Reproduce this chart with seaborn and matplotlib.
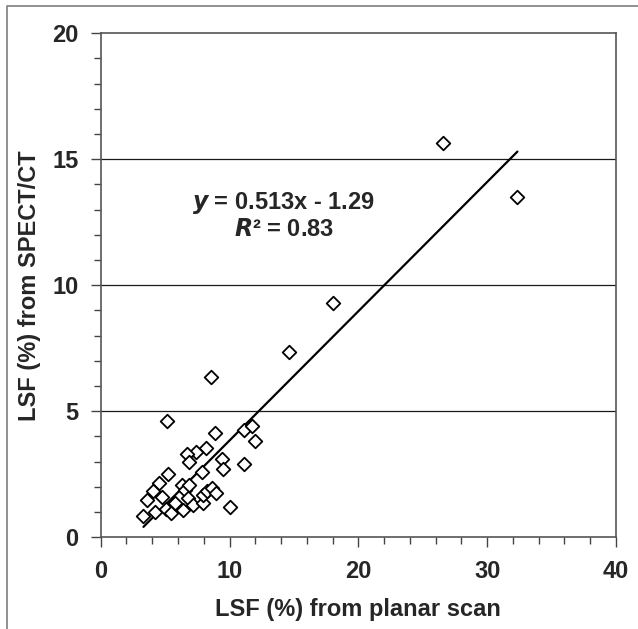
import numpy as np
import pandas as pd
import matplotlib.pyplot as plt
from matplotlib.lines import Line2D
from matplotlib.ticker import MultipleLocator
import seaborn as sns

# LSF (%) values
planar = [26.56, 32.35, 18.01, 14.59, 8.55,
          5.18, 8.89, 11.09, 11.74, 12.0, 8.16, 7.41, 6.68, 6.87, 9.40,
          9.48, 11.09, 7.85, 5.26, 4.56, 4.09, 3.63, 3.32, 4.22, 4.74,
          5.08, 5.47, 5.78, 6.30, 6.55, 6.87, 6.42, 6.81, 7.2, 7.93,
          7.98, 8.29, 8.63, 8.96, 10.0]
spect = [15.63, 13.52, 9.29, 7.37, 6.36,
         4.61, 4.12, 4.26, 4.43, 3.83, 3.53, 3.40, 3.29, 2.98, 3.10,
         2.71, 2.91, 2.61, 2.50, 2.17, 1.84, 1.49, 0.86, 1.00, 1.58,
         1.13, 0.96, 1.38, 2.08, 1.88, 2.08, 1.07, 1.55, 1.29, 1.36,
         1.69, 1.84, 1.95, 1.75, 1.19]

slope = 0.513
intercept = -1.29
r2 = 0.83

df = pd.DataFrame({'planar': planar, 'spect': spect})

sns.set_theme(style='white')
plt.rcParams['font.family'] = ['Liberation Sans', 'DejaVu Sans']
plt.rcParams['font.weight'] = 'bold'

fig = plt.figure(figsize=(6.38, 6.29), dpi=100)
ax = fig.add_axes([0.1578, 0.1458, 0.8077, 0.8013])

# horizontal grid lines at 5, 10, 15
for g in [5, 10, 15]:
    ax.axhline(g, color='#1a1a1a', lw=0.9, zorder=1)

sns.scatterplot(data=df, x='planar', y='spect', marker='D', s=48,
                facecolor='white', edgecolor='black', linewidth=1.3,
                zorder=3, ax=ax)

fit = pd.DataFrame({'x': [min(planar), max(planar)]})
fit['y'] = slope * fit['x'] + intercept
sns.lineplot(data=fit, x='x', y='y', color='black', lw=1.6, zorder=2, ax=ax)

ax.text(14.2, 13.28, r'$\bf{\it{y}}$ = %.3fx - %.2f' % (slope, -intercept),
        ha='center', va='center', fontsize=17, fontweight='bold')
ax.text(14.2, 12.22, r'$\bf{\it{R}}$² = %.2f' % r2,
        ha='center', va='center', fontsize=17, fontweight='bold')

ax.set_xlim(0, 40)
ax.set_ylim(0, 20)
ax.xaxis.set_major_locator(MultipleLocator(10))
ax.xaxis.set_minor_locator(MultipleLocator(2))
ax.yaxis.set_major_locator(MultipleLocator(5))
ax.yaxis.set_minor_locator(MultipleLocator(1))
ax.tick_params(which='major', direction='out', length=7, width=1, color='#444444',
               labelsize=17, pad=9)
ax.tick_params(which='minor', direction='out', length=5, width=1, color='#444444')
ax.tick_params(axis='y', which='both', left=True)
ax.tick_params(axis='x', which='both', bottom=True)
for lab in ax.get_xticklabels() + ax.get_yticklabels():
    lab.set_fontweight('bold')

for sp in ax.spines.values():
    sp.set_color('#555555')
    sp.set_linewidth(1.2)

ax.set_xlabel('LSF (%) from planar scan', fontsize=17, fontweight='bold', labelpad=11)
ax.set_ylabel('LSF (%) from SPECT/CT', fontsize=17, fontweight='bold', labelpad=8)

# outer grey frame (cropped at right and bottom)
fig.add_artist(Line2D([7 / 638, 7 / 638, 1.0], [0.0, 1 - 6 / 629, 1 - 6 / 629],
                      transform=fig.transFigure, color='#888888', lw=1.3))

fig.savefig('out.png', dpi=100)
